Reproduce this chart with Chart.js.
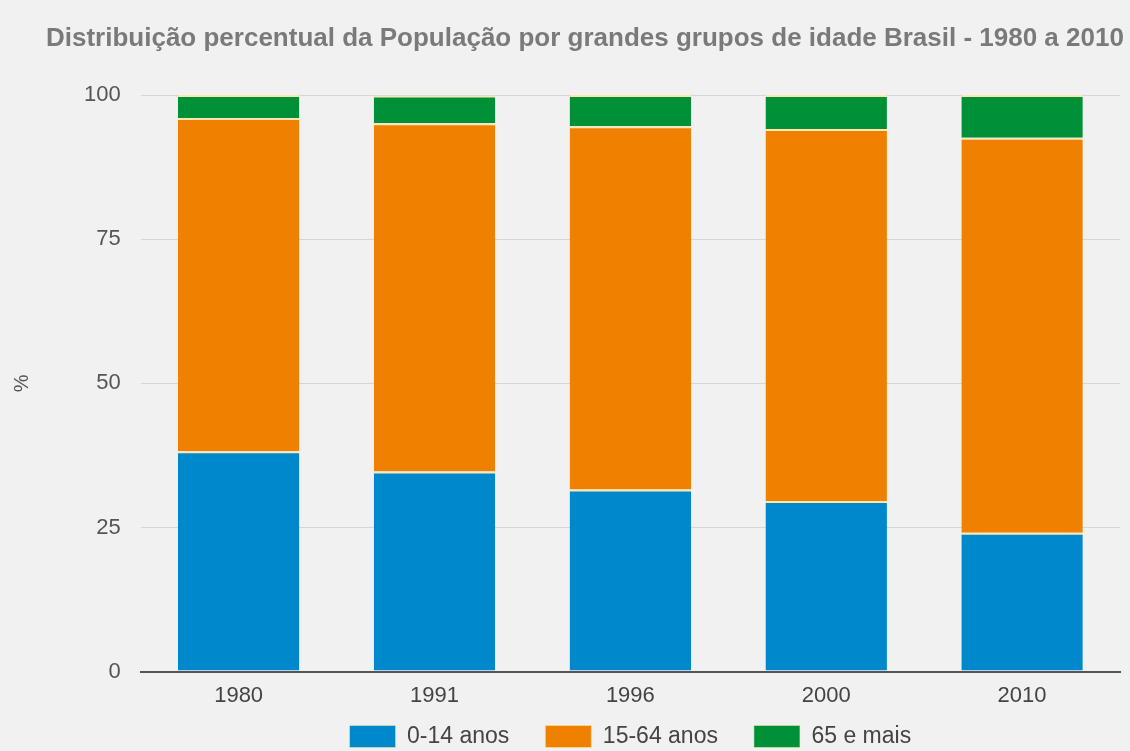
<!DOCTYPE html>
<html>
<head>
<meta charset="utf-8">
<script src="https://cdn.jsdelivr.net/npm/chart.js@4"></script>
<style>
  html, body { margin: 0; padding: 0; background: #f1f1f1; }
  #wrap { width: 1130px; height: 751px; position: relative; }
</style>
</head>
<body>
<div id="wrap"><canvas id="c"></canvas></div>
<script>
const chartTitle = 'Distribuição percentual da População por grandes grupos de idade Brasil - 1980 a 2010';
const categories = ['1980', '1991', '1996', '2000', '2010'];
const seriesNames = ['0-14 anos', '15-64 anos', '65 e mais'];
const age0to14 = [38.2, 34.7, 31.6, 29.6, 24.1];
const age15to64 = [57.8, 60.4, 63.0, 64.5, 68.5];
const age65plus = [4.0, 4.8, 5.4, 5.9, 7.4];
const yTicks = [0, 25, 50, 75, 100];

const colors = ['#0088cc', '#f08000', '#009038'];
const seriesValues = [age0to14, age15to64, age65plus];
const FONT = '"Liberation Sans", Arial, sans-serif';

const titlePlugin = {
  id: 'customTitle',
  afterDraw(chart) {
    const ctx = chart.ctx;
    ctx.save();
    ctx.font = 'bold 26px ' + FONT;
    ctx.fillStyle = '#7a7a7a';
    ctx.textBaseline = 'alphabetic';
    ctx.textAlign = 'left';
    ctx.fillText(chartTitle, 46, 46);
    ctx.restore();
  }
};

// Legend sits close under the axis labels, as in the reference
const legendPlacer = {
  id: 'legendPlacer',
  afterInit(chart) {
    const lg = chart.legend;
    if (!lg) return;
    const origFit = lg.fit.bind(lg);
    lg.fit = function () { origFit(); this.height = 31; };
  },
  afterLayout(chart) {
    const lg = chart.legend;
    if (!lg) return;
    lg.top += -31;
    lg.height = 100;
    lg.bottom = lg.top + 100;
  }
};

new Chart(document.getElementById('c'), {
  type: 'bar',
  data: {
    labels: categories,
    datasets: seriesNames.map((name, i) => ({
      label: name,
      data: seriesValues[i],
      backgroundColor: colors[i],
      borderColor: '#fbe7b0',
      borderWidth: {top: 2, left: 0, right: 0, bottom: 0},
      borderSkipped: false,
      categoryPercentage: 0.62,
      barPercentage: 1.0
    }))
  },
  options: {
    responsive: true,
    maintainAspectRatio: false,
    animation: false,
    layout: { padding: { top: 95, left: 10, right: 10, bottom: 0 } },
    plugins: {
      title: { display: false },
      tooltip: { enabled: false },
      legend: {
        position: 'bottom',
        fullSize: false,
        labels: {
          boxWidth: 46,
          boxHeight: 22,
          padding: 36,
          color: '#444',
          font: { family: FONT, size: 23 }
        }
      }
    },
    scales: {
      x: {
        stacked: true,
        grid: { display: false, drawTicks: false },
        border: { display: true, color: '#555', width: 2 },
        ticks: {
          padding: 11,
          color: '#444',
          font: { family: FONT, size: 22 }
        }
      },
      y: {
        stacked: true,
        min: 0,
        max: 100,
        afterBuildTicks(axis) { axis.ticks = yTicks.map(v => ({ value: v })); },
        grid: {
          drawTicks: false,
          color: ctx => (ctx.tick && ctx.tick.value === 0) ? '#555' : '#d6d6d6',
          lineWidth: ctx => (ctx.tick && ctx.tick.value === 0) ? 2 : 1
        },
        border: { display: false },
        title: {
          display: true,
          text: '%',
          color: '#555',
          padding: { top: 0, bottom: 30 },
          font: { family: FONT, size: 20 }
        },
        ticks: {
          padding: 20,
          color: '#555',
          font: { family: FONT, size: 22 }
        }
      }
    }
  },
  plugins: [titlePlugin, legendPlacer]
});
</script>
</body>
</html>
